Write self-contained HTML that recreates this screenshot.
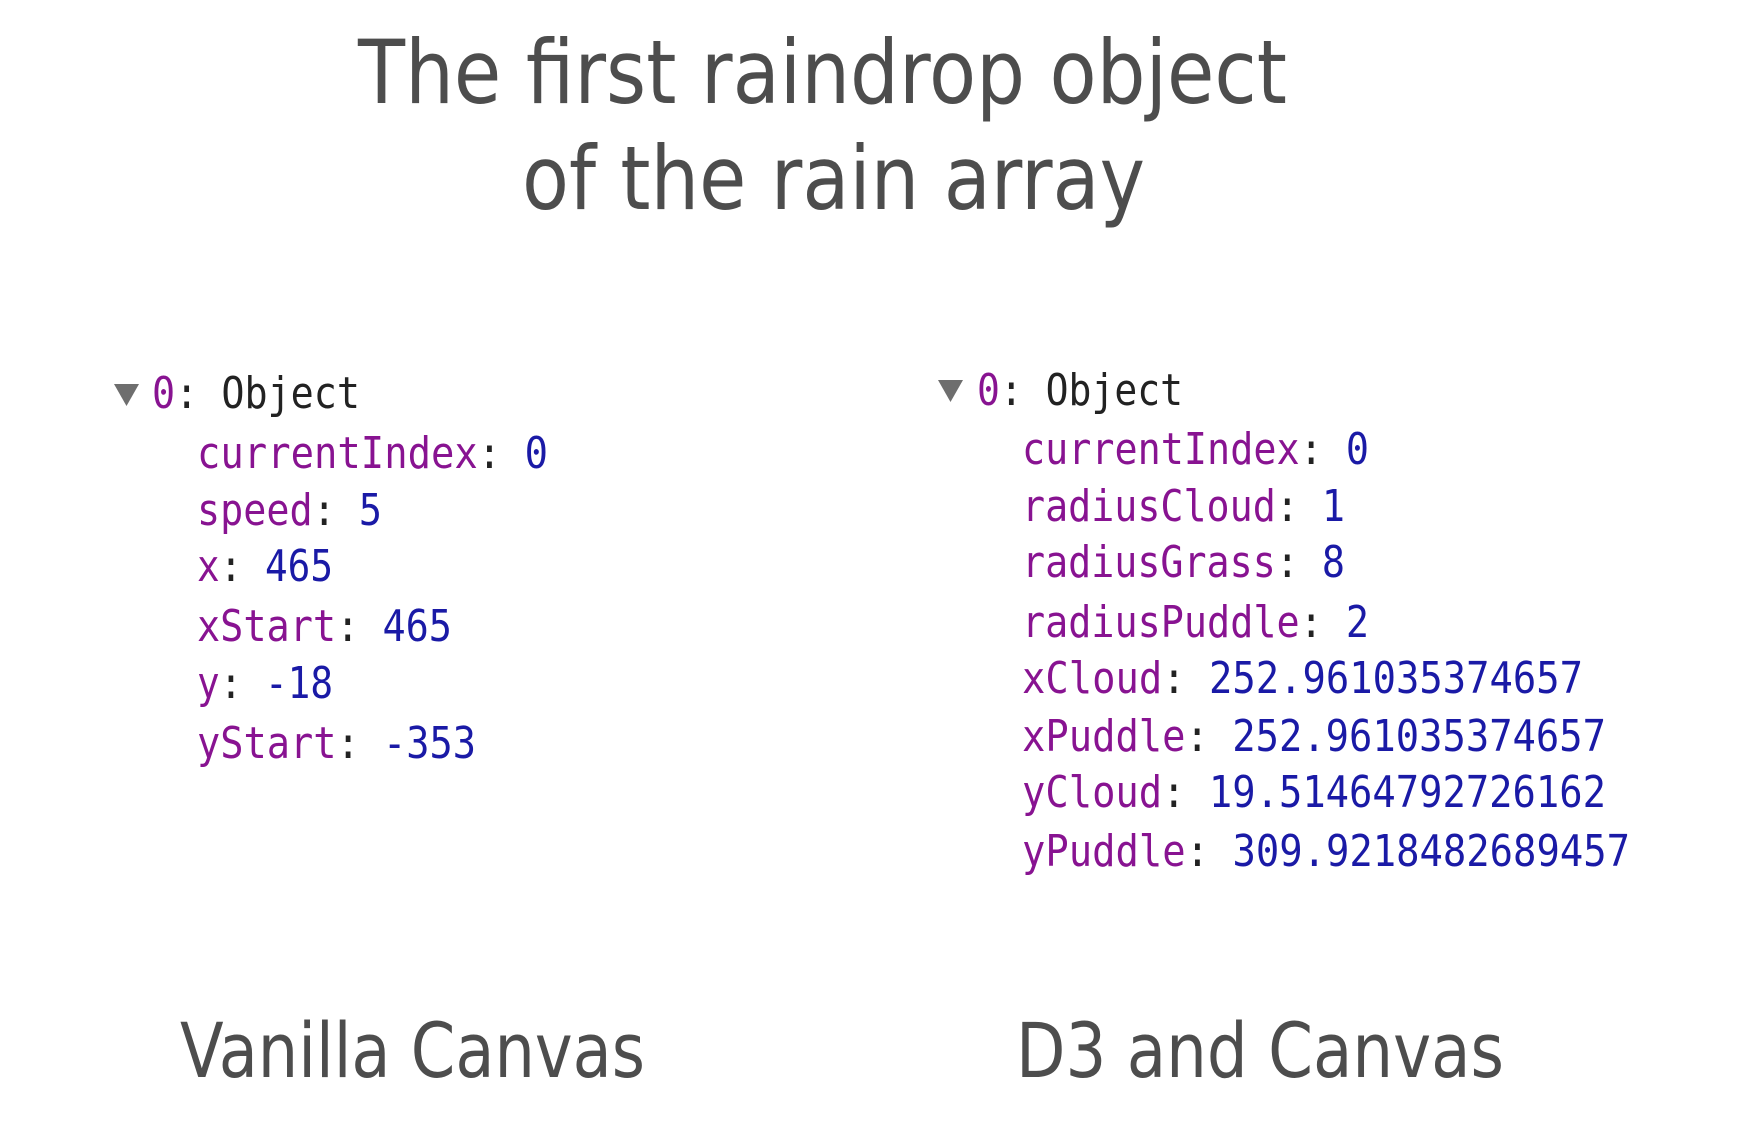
<!DOCTYPE html>
<html><head><meta charset="utf-8"><style>
html,body{margin:0;padding:0;background:#fff;}
svg{display:block;}
.t{font-family:"DejaVu Sans","Liberation Sans",sans-serif;fill:#4d4d4d;}
.m{font-family:"DejaVu Sans Mono","Liberation Mono",monospace;font-size:44px;}
.k{fill:#881391;}.v{fill:#1a1aa6;}.b{fill:#222;}
</style></head><body>
<svg width="1744" height="1122" viewBox="0 0 1744 1122" xmlns="http://www.w3.org/2000/svg">
<text class="t" x="358" y="103" font-size="88" textLength="929" lengthAdjust="spacingAndGlyphs">The first raindrop object</text>
<text class="t" x="522" y="209" font-size="88" textLength="623" lengthAdjust="spacingAndGlyphs">of the rain array</text>

<polygon points="114,384 139,384 126.5,406" fill="#6e6e6e"/>
<text class="m" x="152" y="408" textLength="208" lengthAdjust="spacingAndGlyphs"><tspan class="k">0</tspan><tspan class="b">: Object</tspan></text>
<text class="m" x="197" y="468" textLength="351" lengthAdjust="spacingAndGlyphs"><tspan class="k">currentIndex</tspan><tspan class="b">: </tspan><tspan class="v">0</tspan></text>
<text class="m" x="197" y="525" textLength="185" lengthAdjust="spacingAndGlyphs"><tspan class="k">speed</tspan><tspan class="b">: </tspan><tspan class="v">5</tspan></text>
<text class="m" x="197" y="581" textLength="136" lengthAdjust="spacingAndGlyphs"><tspan class="k">x</tspan><tspan class="b">: </tspan><tspan class="v">465</tspan></text>
<text class="m" x="197" y="641" textLength="255" lengthAdjust="spacingAndGlyphs"><tspan class="k">xStart</tspan><tspan class="b">: </tspan><tspan class="v">465</tspan></text>
<text class="m" x="197" y="698" textLength="136" lengthAdjust="spacingAndGlyphs"><tspan class="k">y</tspan><tspan class="b">: </tspan><tspan class="v">-18</tspan></text>
<text class="m" x="197" y="758" textLength="279" lengthAdjust="spacingAndGlyphs"><tspan class="k">yStart</tspan><tspan class="b">: </tspan><tspan class="v">-353</tspan></text>

<polygon points="938,380 963,380 950.5,402" fill="#6e6e6e"/>
<text class="m" x="977" y="405" textLength="206" lengthAdjust="spacingAndGlyphs"><tspan class="k">0</tspan><tspan class="b">: Object</tspan></text>
<text class="m" x="1022" y="464" textLength="347" lengthAdjust="spacingAndGlyphs"><tspan class="k">currentIndex</tspan><tspan class="b">: </tspan><tspan class="v">0</tspan></text>
<text class="m" x="1022" y="521" textLength="323" lengthAdjust="spacingAndGlyphs"><tspan class="k">radiusCloud</tspan><tspan class="b">: </tspan><tspan class="v">1</tspan></text>
<text class="m" x="1022" y="577" textLength="323" lengthAdjust="spacingAndGlyphs"><tspan class="k">radiusGrass</tspan><tspan class="b">: </tspan><tspan class="v">8</tspan></text>
<text class="m" x="1022" y="637" textLength="347" lengthAdjust="spacingAndGlyphs"><tspan class="k">radiusPuddle</tspan><tspan class="b">: </tspan><tspan class="v">2</tspan></text>
<text class="m" x="1022" y="693" textLength="561" lengthAdjust="spacingAndGlyphs"><tspan class="k">xCloud</tspan><tspan class="b">: </tspan><tspan class="v">252.961035374657</tspan></text>
<text class="m" x="1022" y="751" textLength="584" lengthAdjust="spacingAndGlyphs"><tspan class="k">xPuddle</tspan><tspan class="b">: </tspan><tspan class="v">252.961035374657</tspan></text>
<text class="m" x="1022" y="807" textLength="584" lengthAdjust="spacingAndGlyphs"><tspan class="k">yCloud</tspan><tspan class="b">: </tspan><tspan class="v">19.51464792726162</tspan></text>
<text class="m" x="1022" y="866" textLength="608" lengthAdjust="spacingAndGlyphs"><tspan class="k">yPuddle</tspan><tspan class="b">: </tspan><tspan class="v">309.9218482689457</tspan></text>

<text class="t" x="180" y="1077" font-size="76" textLength="465" lengthAdjust="spacingAndGlyphs">Vanilla Canvas</text>
<text class="t" x="1016" y="1077" font-size="76" textLength="488" lengthAdjust="spacingAndGlyphs">D3 and Canvas</text>
</svg>
</body></html>
